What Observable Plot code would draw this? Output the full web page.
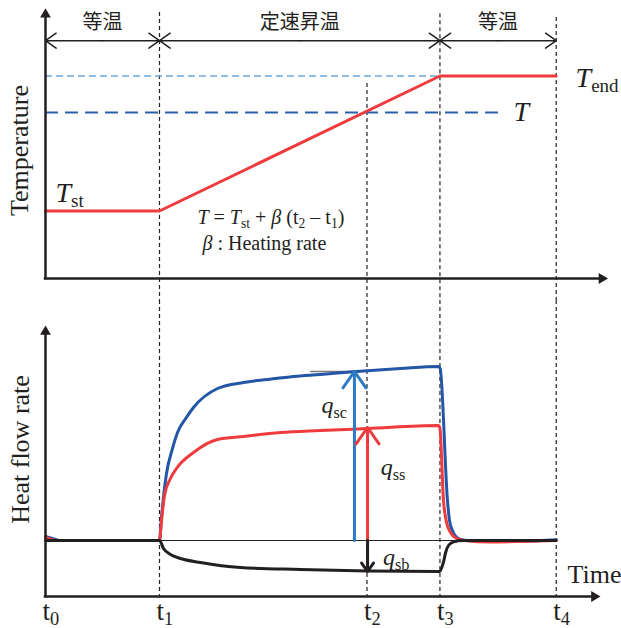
<!DOCTYPE html>
<html>
<head>
<meta charset="utf-8">
<script src="https://cdn.jsdelivr.net/npm/d3@7"></script>
<script src="https://cdn.jsdelivr.net/npm/@observablehq/plot@0.6"></script>
<style>
  html, body { margin: 0; padding: 0; background: #fff; }
  #chart svg { display: block; }
  #chart svg, #chart svg text, #chart svg tspan {
    font-family: "Liberation Serif", "Noto Sans CJK JP", serif !important;
  }
</style>
</head>
<body>
<div id="chart"></div>
<script>
// ---------- DATA ----------
// time axis (arbitrary units): t0..t4
const tickTimes = [0, 10, 28.2, 34.6, 44.8];
const tickLabels = ["t_{0}", "t_{1}", "t_{2}", "t_{3}", "t_{4}"];

// phases of the program
const phaseStart = [0, 10, 34.6];
const phaseEnd = [10, 34.6, 44.8];
const phaseLabel = ["等温", "定速昇温", "等温"];

// temperature program (arbitrary units)
const tempTime = [0, 10, 34.6, 44.8];
const tempValue = [25, 25, 75, 75];
const T_st = 25, T_end = 75, T_at_t2 = 61.5;

// heat flow curves (arbitrary units)
const blueTime  = [0, 0.9, 1.3, 10, 10.18, 10.6, 11.14, 11.58, 12.3, 12.98, 15.09, 17.37, 19.47, 21.75, 24.12, 27.28, 31.14, 34.47, 34.62, 35.26, 35.44, 35.7, 36.23, 36.93, 39, 42, 44.8];
const blueValue = [2, 0.5, 0, 0, 12, 33, 46, 54, 61, 66.5, 76, 79, 80.5, 82, 83, 84.5, 86, 87, 86, 20, 10, 5, 1, 0, -0.3, -0.3, 0.4];

const redTime  = [0, 1.0, 10, 10.18, 10.44, 10.96, 11.49, 12.98, 15.09, 17.37, 20.61, 24.12, 28.25, 34.47, 34.6, 34.91, 35.18, 35.53, 36.05, 36.75, 39, 41.7, 44.8];
const redValue = [1.5, 0, 0, 10, 22.5, 31, 36, 44, 50.5, 52, 54, 55, 56, 57.5, 56, 20, 9, 4, 1, 0, -0.75, -0.5, 0];

const blackTime  = [0, 10, 10.35, 10.96, 11.84, 13.6, 17.1, 22.37, 28.25, 34.55, 34.9, 35.1, 35.35, 35.8, 36.6, 44.8];
const blackValue = [0, 0, -4, -7, -9, -11, -13.5, -14.5, -15.25, -15.5, -11, -6, -2.5, -0.7, 0, 0];

// heat flow arrows
const qTime  = [27.1, 28.25, 28.25];
const qTop   = [84.5, 56.5, -15.5];
const qLabel = ["*q*_{sc}", "*q*_{ss}", "*q*_{sb}"];
const qLabelTime  = [24.2, 29.4, 29.6];
const qLabelValue = [67.5, 36.5, -8.5];

// ---------- STYLE / LAYOUT ----------
const INK = "#231f20";
const RED = "#ef3b3d";
const BLUE = "#2356a6";
const QCOL = ["#2b7cc4", "#ef3b3d", INK];
const FONT = "Liberation Serif, Noto Sans CJK JP, serif";
const W = 621;
const xOpt = {domain: [0, 50], axis: null};
const dashTimes = tickTimes.slice(1);

// ---------- TOP PANEL ----------
const phaseArrows = [];
phaseStart.forEach((s, i) => {
  const m = (s + phaseEnd[i]) / 2;
  phaseArrows.push({x1: m, x2: s}, {x1: m, x2: phaseEnd[i]});
});
const phaseText = phaseLabel.map((l, i) => ({x: (phaseStart[i] + phaseEnd[i]) / 2, text: l}));

const topLabels = [
  {x: 0.88, y: 31.7, text: "*T*_{st}", size: 28},
  {x: 46.5, y: 74.4, text: "*T*_{end}", size: 28},
  {x: 41.05, y: T_at_t2, text: "*T*", size: 28},
  {x: 13.33, y: 22.4, text: "*T* = *T*_{st} + *β* (t_{2} – t_{1})", size: 20},
  {x: 13.77, y: 13, text: "*β* : Heating rate", size: 20}
];

const topPlot = Plot.plot({
  width: W, height: 300,
  marginLeft: 45, marginRight: 6, marginTop: 8, marginBottom: 22,
  x: xOpt, y: {domain: [0, 100], axis: null},
  style: {fontFamily: FONT, color: INK, background: "white"},
  marks: [
    Plot.ruleX(dashTimes, {x: d => d, y1: [98.5, 72.2, 98.1, 96.7], y2: -8.2, stroke: INK, strokeWidth: 1.2, strokeDasharray: "4,3"}),
    Plot.ruleY([T_end], {x1: 0, x2: 39.4, stroke: "#6fa8dc", strokeWidth: 1.3, strokeDasharray: "7,4"}),
    Plot.ruleY([T_at_t2], {x1: 0, x2: 40, stroke: "#2d5fa8", strokeWidth: 2, strokeDasharray: "13,7"}),
    Plot.line(tempTime, {x: tempTime, y: tempValue, stroke: RED, strokeWidth: 3}),
    // axes
    Plot.ruleX([0], {y1: 0, y2: 97, stroke: INK, strokeWidth: 2.5, strokeLinecap: "square"}),
    Plot.ruleY([0], {x1: 0, x2: 48.8, stroke: INK, strokeWidth: 2.5, strokeLinecap: "square"}),
    Plot.dot([0], {x: 0, y: 97.8, symbol: "triangle", r: 4, fill: INK, stroke: null}),
    Plot.dot([0], {x: 48.8, y: 0, symbol: "triangle", r: 4, fill: INK, stroke: null, rotate: 90}),
    // phase arrows
    Plot.arrow(phaseArrows, {x1: "x1", x2: "x2", y1: 88.1, y2: 88.1, stroke: INK, strokeWidth: 1.5, headLength: 13, headAngle: 70}),
    Plot.text(phaseText, {x: "x", y: 94.8, text: "text", fontSize: 20, fill: INK}),
    // labels
    Plot.text(topLabels, {x: "x", y: "y", text: "text", fontSize: "size", textAnchor: "start", fill: INK}),
    Plot.text(["Temperature"], {x: -2.3, y: 47.4, text: d => d, rotate: -90, fontSize: 26, fill: INK})
  ]
});

// ---------- BOTTOM PANEL ----------
const qArrows = qTime.map((t, i) => ({x: t, y2: qTop[i], c: QCOL[i]}));
const qText = qLabel.map((l, i) => ({x: qLabelTime[i], y: qLabelValue[i], text: l}));
const tText = tickTimes.map((t, i) => ({x: t, text: tickLabels[i]}));

const bottomPlot = Plot.plot({
  width: W, height: 328,
  marginLeft: 45, marginRight: 6, marginTop: 25, marginBottom: 32,
  x: xOpt, y: {domain: [-28, 107.5], axis: null},
  color: {type: "identity"},
  style: {fontFamily: FONT, color: INK, background: "white"},
  marks: [
    Plot.ruleX(dashTimes, {x: d => d, y1: 120, y2: -28, stroke: INK, strokeWidth: 1.2, strokeDasharray: "4,3"}),
    Plot.ruleY([0], {x1: 0, x2: tickTimes[4], stroke: INK, strokeWidth: 1}),
    Plot.ruleY([84.5], {x1: 23.25, x2: 27.3, stroke: "#7a7a7a", strokeWidth: 1.3}),
    Plot.line(blueTime, {x: blueTime, y: blueValue, stroke: BLUE, strokeWidth: 3, curve: "monotone-x"}),
    Plot.line(redTime, {x: redTime, y: redValue, stroke: RED, strokeWidth: 3, curve: "monotone-x"}),
    Plot.line(blackTime, {x: blackTime, y: blackValue, stroke: INK, strokeWidth: 3, curve: "monotone-x"}),
    Plot.arrow(qArrows, {x1: "x", x2: "x", y1: 0, y2: "y2", stroke: "c", strokeWidth: 3, headLength: 10, headAngle: 70}),
    // axes
    Plot.ruleX([0], {y1: -28, y2: 104, stroke: INK, strokeWidth: 2.5, strokeLinecap: "square"}),
    Plot.ruleY([-28], {x1: 0, x2: 48.1, stroke: INK, strokeWidth: 2.5, strokeLinecap: "square"}),
    Plot.dot([0], {x: 0, y: 104.4, symbol: "triangle", r: 4, fill: INK, stroke: null}),
    Plot.dot([0], {x: 48.14, y: -28, symbol: "triangle", r: 4, fill: INK, stroke: null, rotate: 90}),
    // labels
    Plot.text(qText, {x: "x", y: "y", text: "text", fontSize: 24, textAnchor: "start", fill: INK}),
    Plot.text(tText, {x: "x", y: -35.2, text: "text", fontSize: 27, textAnchor: "start", dx: -3, fill: INK}),
    Plot.text(["Time"], {x: 45.8, y: -16.9, text: d => d, fontSize: 26, textAnchor: "start", fill: INK}),
    Plot.text(["Heat flow rate"], {x: -2.2, y: 45.5, text: d => d, rotate: -90, fontSize: 26, fill: INK})
  ]
});

const host = document.getElementById("chart");
host.appendChild(topPlot);
host.appendChild(bottomPlot);

// ---------- rich text: *italic* and _{subscript} ----------
const NS = "http://www.w3.org/2000/svg";
function richify(svg) {
  d3.select(svg).selectAll("text").each(function () {
    const el = this;
    const s = el.textContent;
    if (!/[*]|_\{/.test(s)) return;
    const fs = parseFloat(getComputedStyle(el).fontSize) || 20;
    const tokens = s.match(/\*[^*]+\*|_\{[^}]*\}|[^*_]+/g) || [];
    el.textContent = "";
    let shifted = false;
    for (const tok of tokens) {
      const t = document.createElementNS(NS, "tspan");
      let dy = 0;
      if (tok.startsWith("_{")) {
        t.textContent = tok.slice(2, -1);
        t.setAttribute("font-size", (fs * 0.68).toFixed(1));
        t.setAttribute("font-style", "normal");
        if (!shifted) { dy = fs * 0.2; shifted = true; }
      } else {
        if (tok.startsWith("*")) {
          t.textContent = tok.slice(1, -1);
          t.setAttribute("font-style", "italic");
        } else {
          t.textContent = tok;
        }
        if (shifted) { dy = -fs * 0.2; shifted = false; }
      }
      if (dy) t.setAttribute("dy", dy.toFixed(1));
      el.appendChild(t);
    }
  });
}
richify(topPlot);
richify(bottomPlot);
</script>
</body>
</html>
